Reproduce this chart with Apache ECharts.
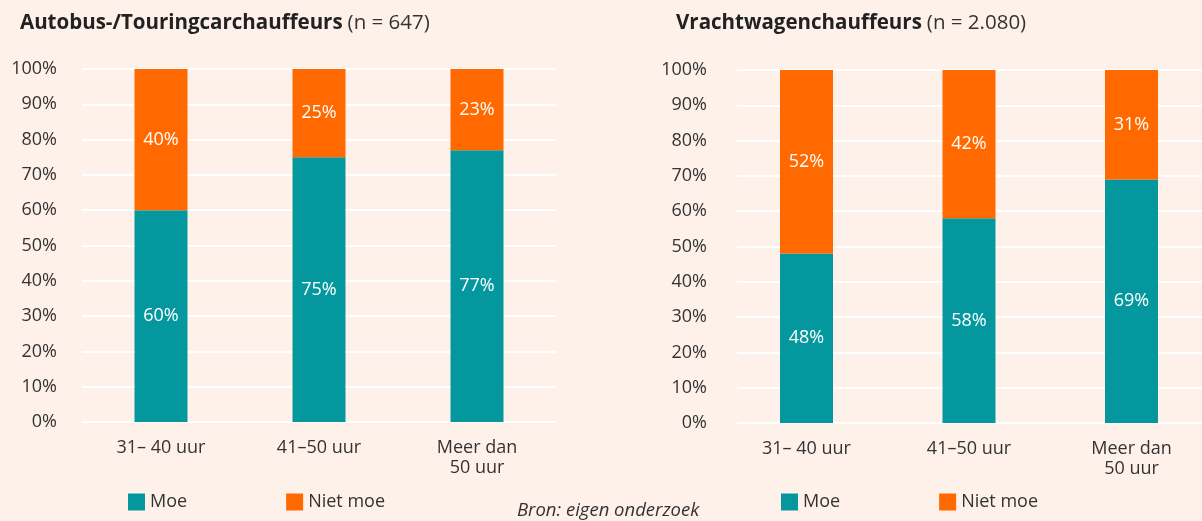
<!DOCTYPE html>
<html>
<head>
<meta charset="utf-8">
<script src="https://cdn.jsdelivr.net/npm/echarts@6/dist/echarts.min.js"></script>
<style>
html,body{margin:0;padding:0;background:#FEF1EA;}
#c{width:1202px;height:521px;}
</style>
</head>
<body>
<div id="c"></div>
<script>
var categories = ['31\u2013 40 uur', '41\u201350 uur', 'Meer dan\n50 uur'];
var busMoe = [60, 75, 77];
var busNietMoe = [40, 25, 23];
var truckMoe = [48, 58, 69];
var truckNietMoe = [52, 42, 31];
var yTicks = [0, 10, 20, 30, 40, 50, 60, 70, 80, 90, 100];
var seriesNames = ['Moe', 'Niet moe'];

var TEAL = '#04989E';
var ORANGE = '#FF6900';
var FONT = '"Open Sans", "Noto Sans", sans-serif';
var TXT = '#333333';

var chart = echarts.init(document.getElementById('c'));

function xAxis(gi, show, boundaryGap) {
  return {
    type: 'category', gridIndex: gi, data: categories, show: show, boundaryGap: boundaryGap,
    axisLine: {show: false}, axisTick: {show: false},
    axisLabel: {color: TXT, fontFamily: FONT, fontSize: 18, margin: 16, lineHeight: 20, interval: 0}
  };
}
function yAxis(gi, showLabels, showSplit, margin) {
  return {
    type: 'value', gridIndex: gi, min: yTicks[0], max: yTicks[yTicks.length - 1], interval: 10,
    axisLine: {show: false}, axisTick: {show: false},
    axisLabel: {show: showLabels, color: TXT, fontFamily: FONT, fontSize: 18, margin: margin,
      formatter: function (v) { return v + '%'; }},
    splitLine: {show: showSplit, lineStyle: {color: '#FFFFFF', width: 2}}
  };
}
function bar(name, data, gi, color) {
  return {
    name: name, type: 'bar', stack: 's' + gi, xAxisIndex: gi, yAxisIndex: gi,
    data: data, barWidth: 53, itemStyle: {color: color}, clip: false,
    label: {show: true, position: 'inside', color: '#FFFFFF', fontFamily: FONT, fontSize: 18,
      formatter: function (p) { return p.value + '%'; }}
  };
}

chart.setOption({
  backgroundColor: '#FEF1EA',
  animation: false,
  title: [
    {text: '{b|Autobus-/Touringcarchauffeurs} {r|(n = 647)}', left: 15, top: 8,
      textStyle: {rich: {b: {fontFamily: FONT, fontSize: 20.5, fontWeight: 'bold', color: '#222'},
                         r: {fontFamily: FONT, fontSize: 20.5, fontWeight: 'normal', color: '#333'}}}},
    {text: '{b|Vrachtwagenchauffeurs} {r|(n = 2.080)}', left: 671, top: 8,
      textStyle: {rich: {b: {fontFamily: FONT, fontSize: 20.5, fontWeight: 'bold', color: '#222'},
                         r: {fontFamily: FONT, fontSize: 20.5, fontWeight: 'normal', color: '#333'}}}}
  ],
  grid: [
    {left: 82, width: 474, top: 69, height: 353},
    {left: 806.5, width: 325, top: 70, height: 353},
    {left: 737, right: 0, top: 70, height: 353}
  ],
  xAxis: [xAxis(0, true, true), xAxis(1, true, false), xAxis(2, false, true)],
  yAxis: [yAxis(0, true, true, 25), yAxis(1, false, false, 0), yAxis(2, true, true, 30)],
  legend: [
    {data: seriesNames, left: 123, top: 488, itemWidth: 17, itemHeight: 17, itemGap: 99, icon: 'rect',
      textStyle: {color: TXT, fontFamily: FONT, fontSize: 18}},
    {data: seriesNames, left: 776, top: 488, itemWidth: 17, itemHeight: 17, itemGap: 99, icon: 'rect',
      textStyle: {color: TXT, fontFamily: FONT, fontSize: 18}}
  ],
  graphic: [
    {type: 'text', left: 517, top: 501,
      style: {text: 'Bron: eigen onderzoek', fill: TXT, font: 'italic 18.5px ' + FONT}}
  ],
  series: [
    bar(seriesNames[0], busMoe, 0, TEAL),
    bar(seriesNames[1], busNietMoe, 0, ORANGE),
    bar(seriesNames[0], truckMoe, 1, TEAL),
    bar(seriesNames[1], truckNietMoe, 1, ORANGE)
  ]
});
</script>
</body>
</html>
